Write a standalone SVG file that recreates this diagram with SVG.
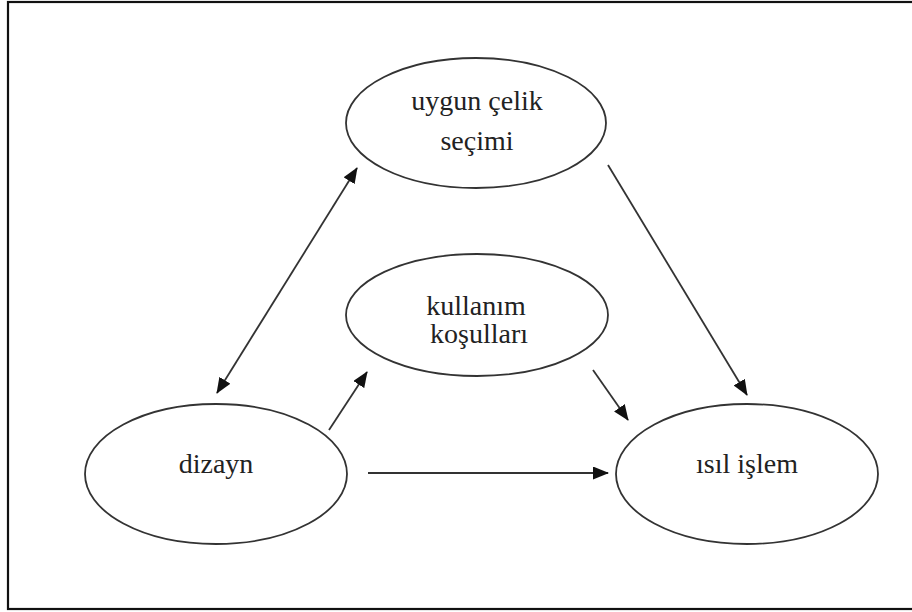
<svg xmlns="http://www.w3.org/2000/svg" width="912" height="612" viewBox="0 0 912 612">
<style>
.node ellipse{fill:#fff;stroke:#333;stroke-width:1.8}
.node text{font-family:"Liberation Serif","Times New Roman",serif;font-size:28px;fill:#222;text-anchor:middle}
.edges line{stroke:#333;stroke-width:1.8}
</style>
<defs>
<marker id="ah" viewBox="0 0 16 13" refX="15" refY="6.5" markerWidth="16" markerHeight="13" markerUnits="userSpaceOnUse" orient="auto-start-reverse">
<path d="M0,0 L16,6.5 L0,13 Z" fill="#111"/>
</marker>
</defs>
<rect x="8" y="2" width="910" height="607" fill="#fff" stroke="#111" stroke-width="2.2"/>
<g id="n-celik" class="node">
<ellipse cx="476" cy="123" rx="130" ry="65"/>
<text x="477" y="110">uygun çelik</text>
<text x="477" y="150">seçimi</text>
</g>
<g id="n-kullanim" class="node">
<ellipse cx="477" cy="315" rx="131" ry="61"/>
<text x="476" y="315">kullanım</text>
<text x="479" y="343">koşulları</text>
</g>
<g id="n-dizayn" class="node">
<ellipse cx="216" cy="474" rx="131" ry="70"/>
<text x="216" y="473">dizayn</text>
</g>
<g id="n-isil" class="node">
<ellipse cx="747" cy="474" rx="131" ry="70"/>
<text x="747" y="473">ısıl işlem</text>
</g>
<g id="edges" class="edges">
<line x1="217" y1="393" x2="357" y2="168" marker-start="url(#ah)" marker-end="url(#ah)"/>
<line x1="329" y1="430" x2="367" y2="372" marker-end="url(#ah)"/>
<line x1="608" y1="165" x2="747" y2="395" marker-end="url(#ah)"/>
<line x1="593" y1="370" x2="628" y2="420" marker-end="url(#ah)"/>
<line x1="368" y1="473" x2="608" y2="473" marker-end="url(#ah)"/>
</g>
</svg>
